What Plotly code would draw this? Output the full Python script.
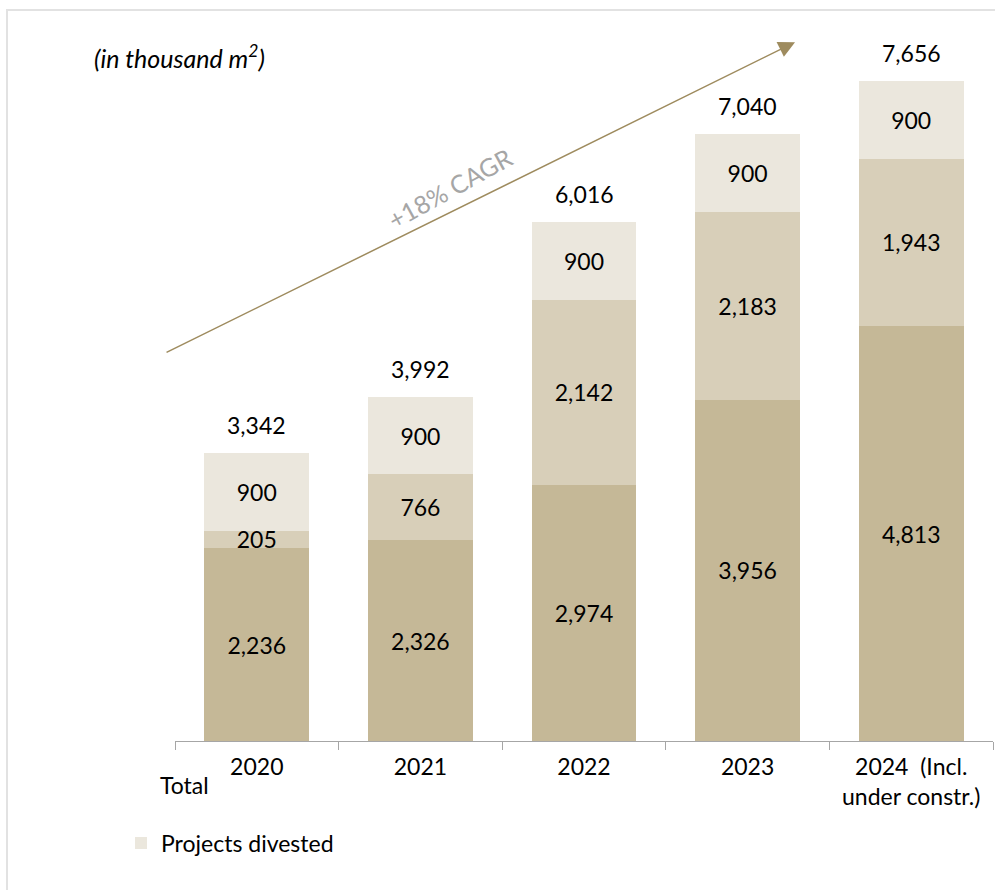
import plotly.graph_objects as go

# Gross leasable area, in thousand m2
years = ["2020", "2021", "2022", "2023", "2024  (Incl.<br>under constr.)"]
operating = [2236, 2326, 2974, 3956, 4813]
additions = [205, 766, 2142, 2183, 1943]
divested = [900, 900, 900, 900, 900]
totals = [3342, 3992, 6016, 7040, 7656]

C_DARK = "#C5B897"
C_MID = "#D8CFB9"
C_LIGHT = "#EBE7DD"
FONT = "Lato"

fig = go.Figure()

def fmt(vals):
    return [f"{v:,}" for v in vals]

fig.add_trace(go.Bar(x=years, y=operating, marker_color=C_DARK, showlegend=False,
                     text=fmt(operating), textposition="inside",
                     insidetextanchor="middle", name="Operating"))
fig.add_trace(go.Bar(x=years, y=additions, marker_color=C_MID, showlegend=False,
                     text=fmt(additions), textposition="inside",
                     insidetextanchor="middle", name="Additions"))
fig.add_trace(go.Bar(x=years, y=divested, marker_color=C_LIGHT, showlegend=True,
                     text=fmt(divested), textposition="inside",
                     insidetextanchor="middle", name="Projects divested"))

fig.update_traces(textfont=dict(family=FONT, size=23, color="black"),
                  marker_line_width=0, cliponaxis=False, textangle=0)

annotations = []
# totals above each stack (x given as category index)
for i, t in enumerate(totals):
    annotations.append(dict(x=i, y=t, xref="x", yref="y", text=f"{t:,}",
                            showarrow=False, xanchor="center", yanchor="middle",
                            yshift=28,
                            font=dict(family=FONT, size=23, color="black")))

# growth arrow
annotations.append(dict(x=0.758, y=0.956, xref="paper", yref="paper",
                        ax=-630, ay=311, axref="pixel", ayref="pixel",
                        text="", showarrow=True, arrowhead=2, arrowsize=2.2,
                        arrowwidth=1.5, arrowcolor="#9E8B5E", standoff=0))
annotations.append(dict(x=0.336, y=0.757, xref="paper", yref="paper",
                        xanchor="center", yanchor="middle",
                        text="+18% CAGR", showarrow=False, textangle=-29,
                        font=dict(family=FONT, size=25, color="#A6A6A6")))

# unit note
annotations.append(dict(x=-0.1015, y=0.936, xref="paper", yref="paper",
                        xanchor="left", yanchor="middle",
                        text="<i>(in thousand m<sup>2</sup>)</i>", showarrow=False,
                        font=dict(family=FONT, size=25, color="black")))
annotations.append(dict(x=-0.0205, y=-0.060, xref="paper", yref="paper",
                        text="Total", showarrow=False, xanchor="left",
                        yanchor="middle",
                        font=dict(family=FONT, size=23, color="black")))

fig.update_layout(
    width=995, height=890,
    barmode="stack", bargap=0.36,
    margin=dict(l=175, r=2, t=10, b=149),
    paper_bgcolor="white", plot_bgcolor="white",
    uniformtext=dict(minsize=23, mode="show"),
    annotations=annotations,
    legend=dict(x=-0.0660, y=-0.1395, xanchor="left", yanchor="middle",
                font=dict(family=FONT, size=23, color="black"),
                bgcolor="rgba(0,0,0,0)", itemwidth=30),
    shapes=[dict(type="rect", xref="paper", yref="paper",
                 x0=-0.2054, x1=1.05, y0=-0.4, y1=1.0,
                 line=dict(color="#E2E2E2", width=2), layer="below")],
    font=dict(family=FONT, size=23, color="black"),
)

fig.update_xaxes(type="category", range=[-0.5, 4.5], showline=True,
                 linecolor="#A6A6A6", linewidth=1,
                 ticks="outside", tickson="boundaries", ticklen=8,
                 tickcolor="#A6A6A6", showgrid=False, tickangle=0,
                 ticklabelstandoff=5,
                 tickfont=dict(family=FONT, size=23, color="black"))
fig.update_yaxes(visible=False, range=[0, 8480], showgrid=False)

fig.write_html("out.html")
